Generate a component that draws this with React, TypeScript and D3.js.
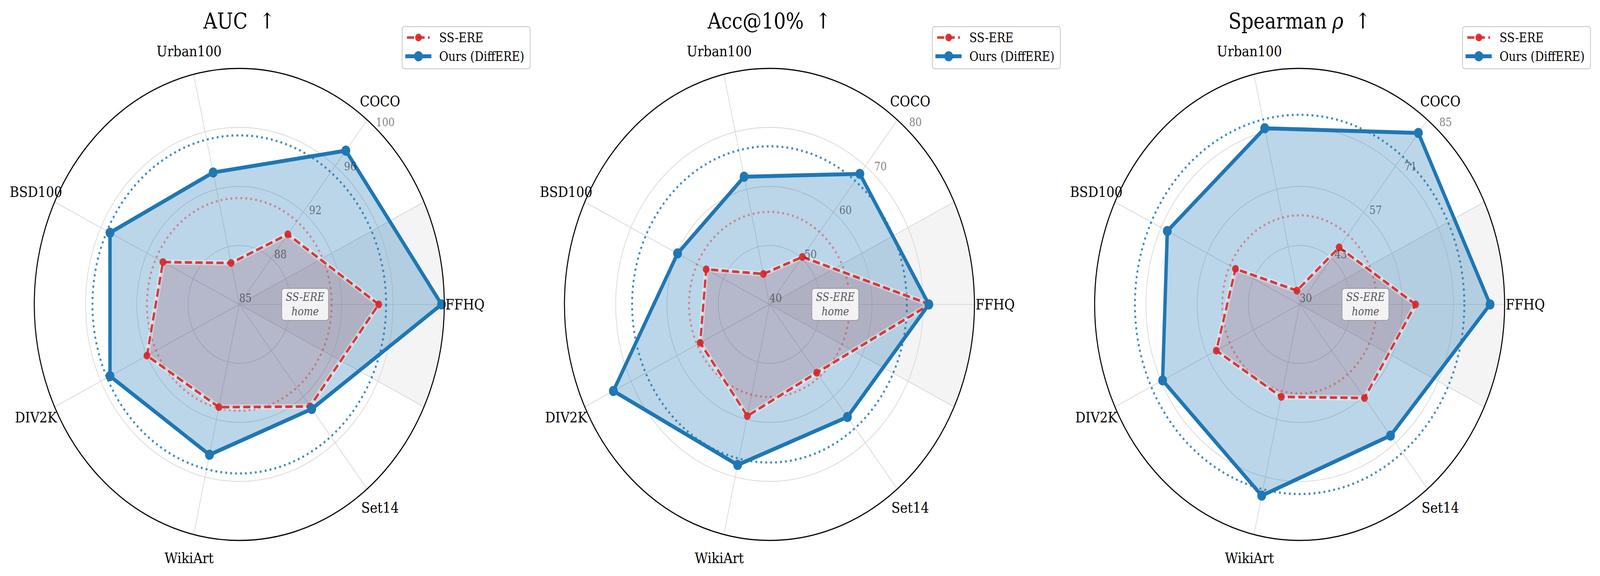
import React, { useEffect } from 'react';
import * as d3 from 'd3';

// ---------------- data ----------------
const categories = ['FFHQ', 'COCO', 'Urban100', 'BSD100', 'DIV2K', 'WikiArt', 'Set14'];
const seriesNames = ['SS-ERE', 'Ours (DiffERE)'];

const aucSSERE = [95.2, 90.7, 87.7, 91.2, 92.5, 91.7, 93.3];
const aucOurs = [99.8, 97.5, 93.6, 95.5, 95.5, 94.8, 93.5];
const accSSERE = [71.3, 50.3, 45.3, 53.7, 55.0, 59.4, 54.8];
const accOurs = [71.1, 68.3, 62.2, 59.9, 73.8, 67.9, 64.4];
const rhoSSERE = [61.1, 47.0, 33.3, 49.1, 54.8, 52.1, 57.9];
const rhoOurs = [81.1, 81.1, 72.1, 69.4, 70.8, 75.7, 69.1];

const aucRange = [85, 100];
const accRange = [40, 80];
const rhoRange = [30, 85];

const aucTicks = ['85', '88', '92', '96', '100'];
const accTicks = ['40', '50', '60', '70', '80'];
const rhoTicks = ['30', '43', '57', '71', '85'];

const titles = ['AUC', 'Acc@10%', 'Spearman'];

const panels = [
  { title: titles[0], rho: false, red: aucSSERE, blue: aucOurs, range: aucRange, ticks: aucTicks },
  { title: titles[1], rho: false, red: accSSERE, blue: accOurs, range: accRange, ticks: accTicks },
  { title: titles[2], rho: true, red: rhoSSERE, blue: rhoOurs, range: rhoRange, ticks: rhoTicks },
];

// ---------------- layout ----------------
const W = 4714;
const H = 1474;
const R = 604;
const CY = 779;
const CXS = [705, 2267, 3829];
const RED = '#d62728';
const BLUE = '#1f77b4';
const FONT = '"DejaVu Serif", serif';

const N = categories.length;
const theta = (i: number) => (i * 2 * Math.PI) / N; // ccw from east
const d3a = (t: number) => Math.PI / 2 - t; // d3 angle (cw from north)

function Panel({ p, cx }: { p: any; cx: number }) {
  const r = d3.scaleLinear().domain(p.range).range([0, R]);
  const radial = d3
    .lineRadial<number>()
    .angle((_, i) => d3a(theta(i)))
    .radius((v) => r(v))
    .curve(d3.curveLinearClosed);
  const wedge = d3
    .arc()
    .innerRadius(0)
    .outerRadius(R)
    .startAngle(d3a(Math.PI / N))
    .endAngle(d3a(-Math.PI / N));
  const meanRed = d3.mean(p.red as number[]) as number;
  const meanBlue = d3.mean(p.blue as number[]) as number;
  const pt = (v: number, i: number) => [r(v) * Math.cos(theta(i)), -r(v) * Math.sin(theta(i))];
  const wedgeEdges = [Math.PI / N, -Math.PI / N];
  const lx = cx + 480;

  return (
    <g>
      <g transform={`translate(${cx},${CY})`}>
        <path d={(wedge as any)() as string} fill="#f4f4f4" />
        {wedgeEdges.map((t, k) => (
          <line key={k} x1={0} y1={0} x2={R * Math.cos(t)} y2={-R * Math.sin(t)} stroke="#d6d6d6" strokeWidth={2} />
        ))}
        {[1, 2, 3].map((k) => (
          <circle key={k} r={(R * k) / 4} fill="none" stroke="#d8d8d8" strokeWidth={2} />
        ))}
        {categories.map((c, i) => (
          <line key={c} x1={0} y1={0} x2={R * Math.cos(theta(i))} y2={-R * Math.sin(theta(i))} stroke="#d8d8d8" strokeWidth={2} />
        ))}
        <path d={radial(p.red) as string} fill={RED} fillOpacity={0.2} />
        <path d={radial(p.blue) as string} fill={BLUE} fillOpacity={0.3} />
        <circle r={r(meanRed)} fill="none" stroke={RED} strokeOpacity={0.45} strokeWidth={5.5} strokeDasharray="5.5 9.1" />
        <circle r={r(meanBlue)} fill="none" stroke={BLUE} strokeOpacity={0.85} strokeWidth={5.5} strokeDasharray="5.5 9.1" />
        <path d={radial(p.red) as string} fill="none" stroke="#ffffff" strokeOpacity={0.4} strokeWidth={13} strokeLinejoin="round" />
        <path d={radial(p.red) as string} fill="none" stroke={RED} strokeOpacity={0.9} strokeWidth={6.7} strokeDasharray="21 10" />
        {(p.red as number[]).map((v, i) => {
          const [x, y] = pt(v, i);
          return <circle key={i} cx={x} cy={y} r={10} fill={RED} fillOpacity={0.92} />;
        })}
        <path d={radial(p.blue) as string} fill="none" stroke={BLUE} strokeWidth={10} strokeLinejoin="round" />
        {(p.blue as number[]).map((v, i) => {
          const [x, y] = pt(v, i);
          return <circle key={i} cx={x} cy={y} r={13} fill={BLUE} />;
        })}
        <circle r={R} fill="none" stroke="#000" strokeWidth={3} />
        {(p.ticks as string[]).map((t, k) => (
          <text key={t} x={18 + k * 103} y={-16 - k * 112.5} fontSize={29} fill="#000" fillOpacity={0.5} textAnchor="middle" dominantBaseline="central" fontFamily={FONT}>
            {t}
          </text>
        ))}
        {categories.map((c, i) => (
          <text key={c} x={665 * Math.cos(theta(i))} y={-665 * Math.sin(theta(i))} fontSize={37.5} textAnchor="middle" dominantBaseline="central" fontFamily={FONT} fill="#000">
            {c}
          </text>
        ))}
        <g transform="translate(194,0)">
          <rect x={-69} y={-41} width={138} height={82} rx={8} fill="#ffffff" fillOpacity={0.85} stroke="#999" strokeWidth={2} />
          <text y={-19} fontSize={29} fontStyle="italic" textAnchor="middle" dominantBaseline="central" fontFamily={FONT} fill="#555">SS-ERE</text>
          <text y={18} fontSize={29} fontStyle="italic" textAnchor="middle" dominantBaseline="central" fontFamily={FONT} fill="#555">home</text>
        </g>
      </g>
      <text x={cx} y={73} fontSize={56} textAnchor="middle" fontFamily={FONT} fill="#000">
        {p.title}
        {p.rho ? <tspan fontStyle="italic" dx={16}>ρ</tspan> : null}
        <tspan dx={34}>↑</tspan>
      </text>
      <g>
        <rect x={lx} y={68} width={377} height={108} rx={7} fill="#fff" fillOpacity={0.8} stroke="#cccccc" strokeWidth={2.5} />
        <line x1={lx + 14} y1={96} x2={lx + 81} y2={96} stroke={RED} strokeOpacity={0.9} strokeWidth={6.7} strokeDasharray="21 10" />
        <circle cx={lx + 48} cy={96} r={10} fill={RED} fillOpacity={0.92} />
        <text x={lx + 109} y={96} fontSize={33} dominantBaseline="central" fontFamily={FONT}>{seriesNames[0]}</text>
        <line x1={lx + 14} y1={144} x2={lx + 81} y2={144} stroke={BLUE} strokeWidth={10} strokeLinecap="square" />
        <circle cx={lx + 48} cy={144} r={13} fill={BLUE} />
        <text x={lx + 109} y={144} fontSize={33} dominantBaseline="central" fontFamily={FONT}>{seriesNames[1]}</text>
      </g>
    </g>
  );
}

export default function App() {
  useEffect(() => {
    document.body.style.margin = '0';
    document.body.style.overflow = 'hidden';
  }, []);
  return (
    <div>
      <style>{'html,body{margin:0;padding:0;overflow:hidden;background:#fff}'}</style>
      <svg
        viewBox={`0 0 ${W} ${H}`}
        preserveAspectRatio="none"
        style={{ position: 'fixed', left: 0, top: 0, display: 'block', width: '100vw', height: '100vh', background: '#fff' }}
      >
        <rect width={W} height={H} fill="#fff" />
        {panels.map((p, k) => (
          <Panel key={k} p={p} cx={CXS[k]} />
        ))}
      </svg>
    </div>
  );
}
